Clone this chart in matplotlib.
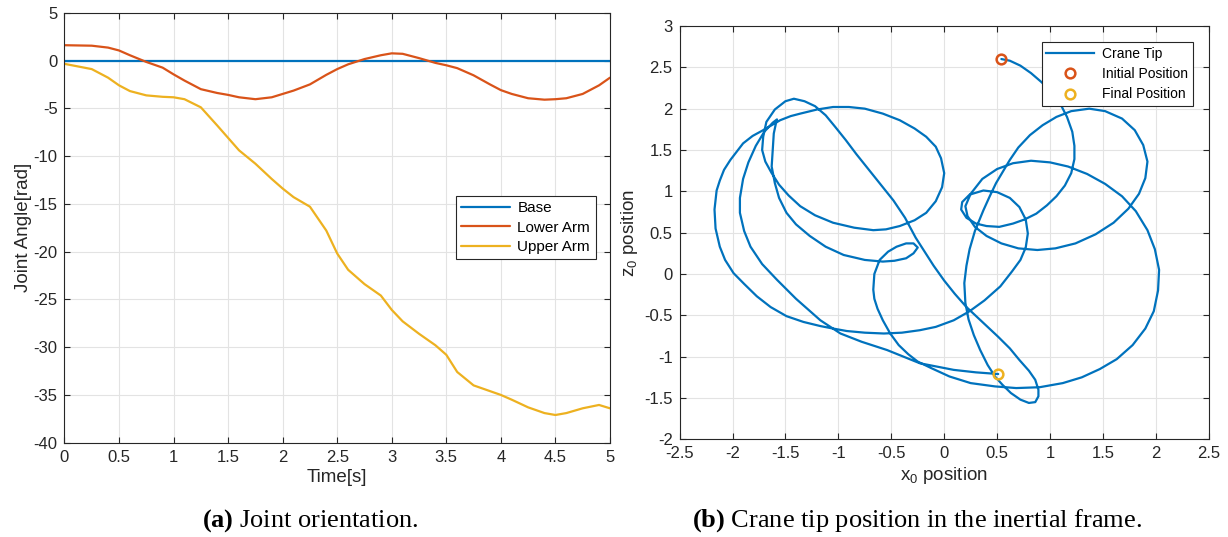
import matplotlib.pyplot as plt
from matplotlib.lines import Line2D

# === MARK: Data
# Joint angles over time (left panel)
t_joint = [0, 0.25, 0.4, 0.5, 0.6, 0.75, 0.9, 1.0, 1.1, 1.25, 1.4, 1.5, 1.6, 1.75, 1.9,
           2.0, 2.1, 2.25, 2.4, 2.5, 2.6, 2.75, 2.9, 3.0, 3.1, 3.25, 3.4, 3.5, 3.6, 3.75,
           3.9, 4.0, 4.1, 4.25, 4.4, 4.5, 4.6, 4.75, 4.9, 5.0]
base_angle = [0.0] * len(t_joint)
lower_arm = [1.6, 1.55, 1.35, 1.05, 0.55, -0.15, -0.75, -1.45, -2.1, -3.0, -3.4, -3.6, -3.85,
             -4.05, -3.85, -3.5, -3.15, -2.5, -1.5, -0.9, -0.4, 0.15, 0.55, 0.75, 0.7, 0.25,
             -0.25, -0.5, -0.8, -1.55, -2.5, -3.1, -3.5, -3.95, -4.1, -4.05, -3.95, -3.5,
             -2.6, -1.8]
upper_arm = [-0.35, -0.9, -1.8, -2.6, -3.2, -3.65, -3.8, -3.85, -4.05, -4.9, -6.8, -8.1, -9.4,
             -10.8, -12.4, -13.4, -14.3, -15.3, -17.8, -20.2, -21.9, -23.4, -24.6, -26.1,
             -27.3, -28.6, -29.8, -30.8, -32.6, -34.0, -34.6, -35.0, -35.5, -36.3, -36.9,
             -37.1, -36.9, -36.4, -36.05, -36.4]

# Crane tip path in the inertial frame (right panel), in drawing order
tip_x = [0.54, 0.62, 0.72, 0.82, 0.92, 1.02, 1.10, 1.16, 1.21, 1.23, 1.23, 1.20, 1.14, 1.06,
         0.97, 0.87, 0.76, 0.65, 0.52, 0.40, 0.30, 0.21, 0.16, 0.17, 0.24, 0.37, 0.50, 0.62,
         0.71, 0.77, 0.79, 0.77, 0.72, 0.64, 0.53, 0.38, 0.24, 0.09, -0.08, -0.23, -0.40,
         -0.57, -0.75, -0.92, -1.05, -1.17, -1.33, -1.49, -1.64, -1.77, -1.89, -1.99, -2.07,
         -2.12, -2.16, -2.17, -2.16, -2.15, -2.12, -2.08, -2.02, -1.96, -1.90, -1.81, -1.71,
         -1.63, -1.55, -1.45, -1.36,
         -1.20, -1.05, -0.90, -0.75, -0.58, -0.42, -0.28, -0.17, -0.08, -0.03, 0.00, -0.02,
         -0.08, -0.17, -0.28, -0.42, -0.55, -0.67, -0.85, -1.05, -1.22, -1.36, -1.47, -1.56,
         -1.63, -1.69, -1.72, -1.71, -1.68, -1.60, -1.50, -1.42, -1.32, -1.22, -1.12, -1.03,
         -0.93, -0.83, -0.73, -0.60, -0.48, -0.37, -0.27, -0.19, -0.10, 0.00, 0.10, 0.21,
         0.36, 0.51, 0.62, 0.71, 0.80, 0.86, 0.89, 0.89, 0.86, 0.80, 0.72, 0.63, 0.55, 0.48,
         0.41, 0.34, 0.28, 0.23, 0.20, 0.19, 0.21, 0.24, 0.29, 0.37, 0.43, 0.49, 0.56, 0.62,
         0.70, 0.81, 0.93, 1.06, 1.20, 1.37, 1.52, 1.68, 1.80, 1.88, 1.92, 1.90, 1.84, 1.74,
         1.60, 1.43, 1.24, 1.05, 0.88, 0.70, 0.54, 0.40, 0.29, 0.22, 0.20, 0.25, 0.36, 0.50,
         0.65, 0.82, 1.00, 1.17, 1.35, 1.52, 1.68, 1.81, 1.92, 1.99, 2.03, 2.02, 1.98, 1.90,
         1.78, 1.63, 1.47, 1.30, 1.12, 0.90, 0.68, 0.48, 0.25, 0.05, -0.12, -0.25, -0.34,
         -0.43, -0.51, -0.58, -0.63, -0.66, -0.67, -0.66, -0.61, -0.53, -0.45, -0.36, -0.29,
         -0.25, -0.29, -0.36, -0.47, -0.58, -0.75, -0.95, -1.12, -1.27, -1.40, -1.49, -1.56,
         -1.60, -1.63, -1.62, -1.61, -1.59, -1.58, -1.62, -1.70, -1.78, -1.85, -1.90, -1.93,
         -1.93, -1.89, -1.83, -1.72, -1.58, -1.40, -1.17, -0.98, -0.78, -0.54, -0.23, 0.09,
         0.30, 0.51]
tip_z = [2.60, 2.58, 2.52, 2.43, 2.32, 2.19, 2.05, 1.90, 1.72, 1.55, 1.39, 1.22, 1.07, 0.94,
         0.83, 0.73, 0.66, 0.61, 0.57, 0.58, 0.61, 0.68, 0.78, 0.87, 0.96, 1.01, 0.99, 0.92,
         0.81, 0.66, 0.49, 0.32, 0.17, 0.03, -0.15, -0.32, -0.45, -0.56, -0.64, -0.68, -0.71,
         -0.72, -0.71, -0.69, -0.66, -0.63, -0.58, -0.51, -0.40, -0.27, -0.12, 0.01, 0.17,
         0.33, 0.55, 0.78, 0.90, 1.01, 1.13, 1.26, 1.38, 1.48, 1.58, 1.67, 1.74,
         1.80, 1.86, 1.91, 1.94,
         1.99, 2.02, 2.02, 2.00, 1.94, 1.86, 1.76, 1.66, 1.54, 1.40, 1.22, 1.05,
         0.88, 0.74, 0.65, 0.58, 0.54, 0.53, 0.56, 0.62, 0.71, 0.82, 0.95, 1.08,
         1.22, 1.36, 1.50, 1.66, 1.84, 1.99, 2.09, 2.12, 2.09, 2.03, 1.92, 1.78,
         1.62, 1.45, 1.29, 1.08, 0.89, 0.68, 0.44, 0.28, 0.10, -0.08, -0.24, -0.40,
         -0.58, -0.76, -0.90, -1.04, -1.17, -1.28, -1.40, -1.48, -1.55, -1.56, -1.52, -1.44, -1.34, -1.24,
         -1.10, -0.92, -0.74, -0.55, -0.35, -0.11, 0.10, 0.30, 0.52, 0.77, 0.94, 1.10, 1.25, 1.38,
         1.53, 1.68, 1.80, 1.90, 1.97, 2.00, 1.97, 1.88, 1.74, 1.56, 1.36, 1.16, 0.97, 0.79,
         0.62, 0.48, 0.37, 0.31, 0.29, 0.31, 0.37, 0.46, 0.57, 0.70, 0.82, 0.97, 1.15, 1.27,
         1.34, 1.37, 1.35, 1.30, 1.21, 1.09, 0.94, 0.76, 0.53, 0.30, 0.05, -0.20, -0.45, -0.66,
         -0.86, -1.03, -1.15, -1.25, -1.32, -1.37, -1.38, -1.36, -1.32, -1.24, -1.14, -1.06, -0.97,
         -0.86, -0.72, -0.56, -0.42, -0.30, -0.19, 0.00, 0.17, 0.27, 0.33, 0.37, 0.37,
         0.32, 0.25, 0.19, 0.16, 0.15, 0.17, 0.23, 0.33, 0.46, 0.60, 0.74, 0.92,
         1.10, 1.30, 1.50, 1.70, 1.82, 1.87, 1.83, 1.72, 1.55, 1.35, 1.15, 0.92,
         0.74, 0.52, 0.33, 0.12, -0.07, -0.30, -0.56, -0.72, -0.82, -0.92, -1.08, -1.16,
         -1.19, -1.21]

# MATLAB default colours
c_blue = '#0072BD'
c_orange = '#D95319'
c_yellow = '#EDB120'
c_axis = '#262626'

# === MARK: Figure setup
plt.rcParams['font.family'] = ['Liberation Sans', 'DejaVu Sans']
plt.rcParams['axes.unicode_minus'] = False
plt.rcParams['mathtext.fontset'] = 'custom'
plt.rcParams['mathtext.rm'] = 'Liberation Serif'
plt.rcParams['mathtext.bf'] = 'Liberation Serif:bold'

fig = plt.figure(figsize=(12.28, 5.37), dpi=100)
ax1 = fig.add_axes([0.0525, 0.1756, 0.4442, 0.8007])
ax2 = fig.add_axes([0.5534, 0.1819, 0.4310, 0.7697])


def style_axes(ax):
    ax.grid(True, color='#e3e3e3', linewidth=0.8)
    ax.set_axisbelow(True)
    for side in ax.spines.values():
        side.set_color(c_axis)
        side.set_linewidth(0.8)
    ax.tick_params(direction='in', top=True, right=True, length=4.5, width=0.8,
                   colors=c_axis, labelsize=12, pad=5)


def fmt(v):
    return ('%g' % round(v, 2))


# === MARK: Left panel - joint angles
line_kw = dict(lw=1.6, solid_joinstyle='round', solid_capstyle='round')
ax1.plot(t_joint, base_angle, color=c_blue, label='Base', **line_kw)
ax1.plot(t_joint, lower_arm, color=c_orange, label='Lower Arm', **line_kw)
ax1.plot(t_joint, upper_arm, color=c_yellow, label='Upper Arm', **line_kw)
ax1.set_xlim(0, 5)
ax1.set_ylim(-40, 5)
xt1 = [i * 0.5 for i in range(11)]
yt1 = list(range(-40, 10, 5))
ax1.set_xticks(xt1, [fmt(v) for v in xt1])
ax1.set_yticks(yt1, [fmt(v) for v in yt1])
style_axes(ax1)
ax1.set_xlabel('Time[s]', fontsize=13.5, color=c_axis, labelpad=3)
ax1.set_ylabel('Joint Angle[rad]', fontsize=13.5, color=c_axis, labelpad=1)
leg1 = ax1.legend(loc='center left', bbox_to_anchor=(0.703, 0.5),
                  fontsize=11, handlelength=3.2, frameon=True, fancybox=False,
                  framealpha=1, edgecolor=c_axis, borderpad=0.35, labelspacing=0.35,
                  handletextpad=0.5)
leg1.get_frame().set_linewidth(0.8)

# === MARK: Right panel - crane tip path
ax2.plot(tip_x, tip_z, color=c_blue, **line_kw)
ax2.plot(tip_x[0], tip_z[0], 'o', ms=7, mfc='none', mec=c_orange, mew=1.8)
ax2.plot(tip_x[-1], tip_z[-1], 'o', ms=7, mfc='none', mec=c_yellow, mew=1.8)
ax2.set_xlim(-2.5, 2.5)
ax2.set_ylim(-2, 3)
xt2 = [-2.5 + i * 0.5 for i in range(11)]
yt2 = [-2 + i * 0.5 for i in range(11)]
ax2.set_xticks(xt2, [fmt(v) for v in xt2])
ax2.set_yticks(yt2, [fmt(v) for v in yt2])
style_axes(ax2)
ax2.set_xlabel('$\\mathregular{x_0}$ position', fontsize=13.5, color=c_axis, labelpad=3)
ax2.set_ylabel('$\\mathregular{z_0}$ position', fontsize=13.5, color=c_axis, labelpad=3)

handles = [Line2D([], [], color=c_blue, lw=1.6),
           Line2D([], [], ls='none', marker='o', ms=7, mfc='none', mec=c_orange, mew=1.8),
           Line2D([], [], ls='none', marker='o', ms=7, mfc='none', mec=c_yellow, mew=1.8)]
leg2 = ax2.legend(handles, ['Crane Tip', 'Initial Position', 'Final Position'],
                  loc='upper right', bbox_to_anchor=(0.983, 0.978),
                  fontsize=10, handlelength=3.4, frameon=True, fancybox=False,
                  framealpha=1, edgecolor=c_axis, borderpad=0.35, labelspacing=0.45,
                  handletextpad=0.6)
leg2.get_frame().set_linewidth(0.8)

# === MARK: Captions
fig.text(0.253, 0.030, '$\\mathbf{(a)}$ Joint orientation.', ha='center', va='center',
         fontsize=19, family='Liberation Serif')
fig.text(0.747, 0.030, '$\\mathbf{(b)}$ Crane tip position in the inertial frame.',
         ha='center', va='center', fontsize=19, family='Liberation Serif')

plt.savefig('out.png', dpi=100)
